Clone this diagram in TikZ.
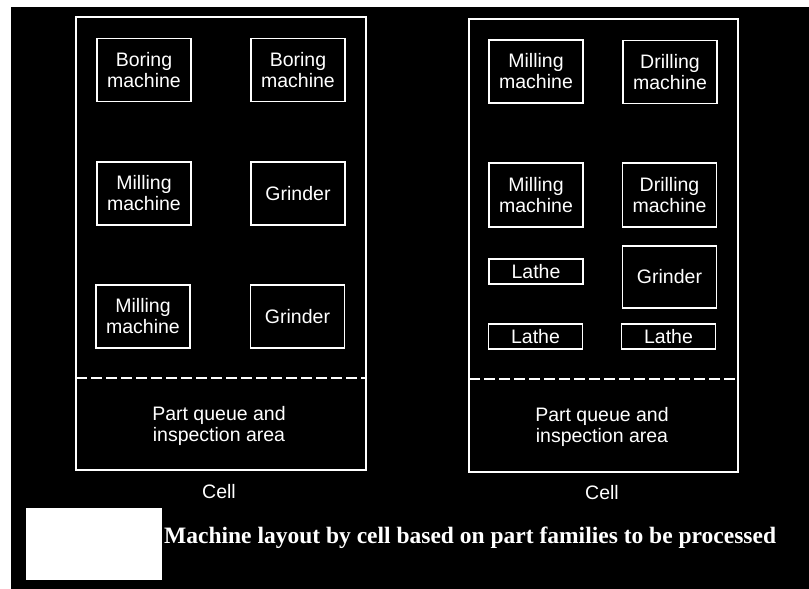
\documentclass[tikz,border=0pt]{standalone}
\usepackage{fontspec}
\setmainfont{Liberation Serif}
\setsansfont{Liberation Sans}
\tikzset{
  mach/.style={draw=white, line width=1.8pt, text=white,
    font=\sffamily\fontsize{19.5}{21}\selectfont, align=center,
    inner sep=0pt, minimum width=94pt, minimum height=63pt},
  lathebox/.style={mach, minimum height=25pt},
  cellbox/.style={draw=white, line width=1.6pt, inner sep=0pt},
  lbl/.style={text=white, font=\sffamily\fontsize{19.5}{21}\selectfont, align=center, inner sep=0pt},
  divider/.style={draw=white, line width=1.4pt, dash pattern=on 11pt off 4pt},
  caption/.style={text=white, font=\bfseries\fontsize{23.5}{26}\selectfont, inner sep=0pt}
}
\begin{document}
\begin{tikzpicture}[x=1pt,y=-1pt]
\useasboundingbox (0,0) rectangle (809,589);
\fill[white] (0,0) rectangle (809,589);
\fill[black] (11,7) rectangle (809,589);
\fill[white] (26,508) rectangle (162,580);

% left cell
\node[cellbox, minimum width=290pt, minimum height=453pt] (cellL) at (221,243.5) {};
\coordinate (dLa) at (76,378);
\coordinate (dLb) at (366,378);
\draw[divider] (dLa) -- (dLb);
\node[mach] (lb1) at (144,70) {Boring\\machine};
\node[mach] (lb2) at (298,70) {Boring\\machine};
\node[mach] (lm1) at (144,193.5) {Milling\\machine};
\node[mach] (lg1) at (298,193.5) {Grinder};
\node[mach] (lm2) at (143,316.5) {Milling\\machine};
\node[mach] (lg2) at (297.5,316.5) {Grinder};
\node[lbl] (lq) at (219,425.5) {Part queue and\\inspection area};
\node[lbl] (lcell) at (219,492) {Cell};

% right cell
\node[cellbox, minimum width=269pt, minimum height=453pt] (cellR) at (603.5,245.5) {};
\coordinate (dRa) at (469,379);
\coordinate (dRb) at (738,379);
\draw[divider] (dRa) -- (dRb);
\node[mach] (rm1) at (536,71.5) {Milling\\machine};
\node[mach] (rd1) at (670,72) {Drilling\\machine};
\node[mach, minimum height=64pt] (rm2) at (536,195) {Milling\\machine};
\node[mach, minimum height=64pt] (rd2) at (669.5,195) {Drilling\\machine};
\node[lathebox] (rl1) at (536,271.5) {Lathe};
\node[mach, minimum height=62pt] (rg) at (669.5,277) {Grinder};
\node[lathebox] (rl2) at (535.5,336.5) {Lathe};
\node[lathebox] (rl3) at (668.5,336.5) {Lathe};
\node[lbl] (rq) at (602,427) {Part queue and\\inspection area};
\node[lbl] (rcell) at (602,493) {Cell};

\node[caption, anchor=base west] (cap) at (164,543) {Machine layout by cell based on part families to be processed};
\end{tikzpicture}
\end{document}
